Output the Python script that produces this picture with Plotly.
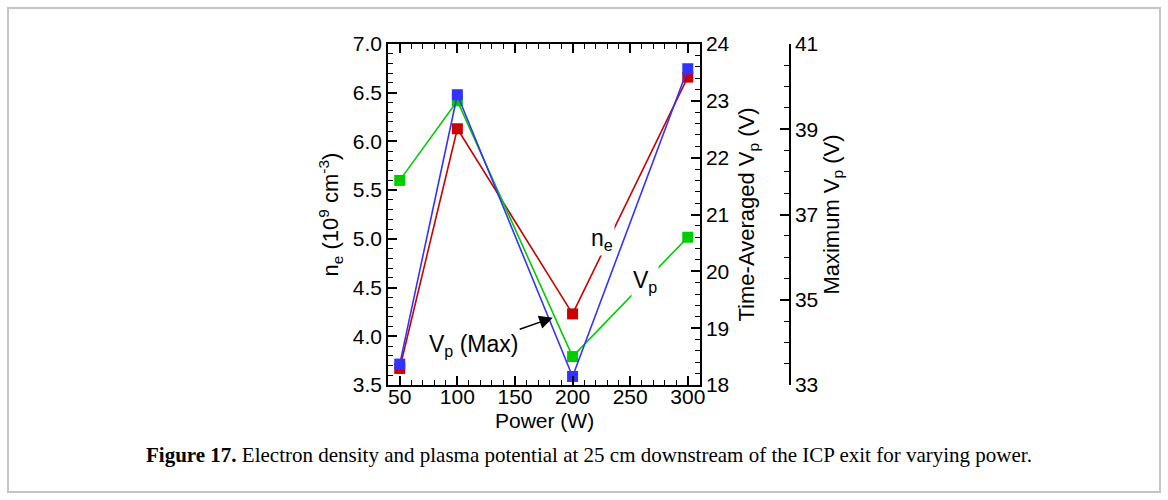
import plotly.graph_objects as go

power = [50, 100, 200, 300]
ne = [3.67, 6.13, 4.23, 6.66]
vp_avg = [21.6, 23.0, 18.5, 20.6]
vp_max = [33.49, 39.81, 33.2, 40.42]

x_ticks = [50, 100, 150, 200, 250, 300]
ne_ticks = [3.5, 4.0, 4.5, 5.0, 5.5, 6.0, 6.5, 7.0]
avg_ticks = [18, 19, 20, 21, 22, 23, 24]
max_ticks = [33, 35, 37, 39, 41]

RED = "#cc0000"
GREEN = "#00cc00"
BLUE = "#3333ff"
FONT = "Liberation Sans"
TF = 21

W, H = 1168, 500
ML, MR, MT, MB = 300, 300, 44, 115
PW = W - ML - MR
PH = H - MT - MB

def px(p):
    return (p - ML) / PW

def py(p):
    return (H - MB - p) / PH

fig = go.Figure()
fig.add_trace(go.Scatter(x=power, y=ne, mode="lines+markers", yaxis="y",
                         line=dict(color=RED, width=1.6),
                         marker=dict(symbol="square", size=11, color=RED),
                         showlegend=False))
fig.add_trace(go.Scatter(x=power, y=vp_avg, mode="lines+markers", yaxis="y2",
                         line=dict(color=GREEN, width=1.6),
                         marker=dict(symbol="square", size=11, color=GREEN),
                         showlegend=False))
fig.add_trace(go.Scatter(x=power, y=vp_max, mode="lines+markers", yaxis="y3",
                         line=dict(color=BLUE, width=1.6),
                         marker=dict(symbol="square", size=11, color=BLUE),
                         showlegend=False))

axis_common = dict(showline=True, linecolor="black", linewidth=1.5,
                   ticks="inside", ticklen=9, tickwidth=1.5, tickcolor="black",
                   showgrid=False, zeroline=False,
                   tickfont=dict(family=FONT, size=TF, color="black"))

fig.update_layout(
    width=W, height=H,
    margin=dict(l=ML, r=MR, t=MT, b=MB),
    paper_bgcolor="white", plot_bgcolor="white",
    xaxis=dict(domain=[px(388), px(700)], range=[39.8, 310.6],
               tickvals=x_ticks, mirror="ticks", ticklabelstandoff=-8,
               minor=dict(dtick=10, tick0=0, ticks="inside", ticklen=5, tickwidth=1, tickcolor="black"),
               **axis_common),
    yaxis=dict(range=[3.5, 7.0], tickvals=ne_ticks, tickformat=".1f",
               minor=dict(dtick=0.1, tick0=0, ticks="inside", ticklen=5, tickwidth=1, tickcolor="black"),
               title=dict(text="n<sub>e</sub> (10<sup>9</sup> cm<sup>-3</sup>)", standoff=8,
                          font=dict(family=FONT, size=22, color="black")),
               **axis_common),
    yaxis2=dict(range=[18, 24], tickvals=avg_ticks, overlaying="y", side="right", anchor="x",
                minor=dict(dtick=0.2, tick0=0, ticks="inside", ticklen=5, tickwidth=1, tickcolor="black"),
                title=dict(text="Time-Averaged V<sub>p</sub> (V)", standoff=10,
                           font=dict(family=FONT, size=22, color="black")),
                **axis_common),
    yaxis3=dict(range=[33, 41], tickvals=max_ticks, overlaying="y", side="right",
                anchor="free", position=px(790),
                minor=dict(dtick=0.5, tick0=0, ticks="inside", ticklen=5, tickwidth=1, tickcolor="black"),
                title=dict(text="Maximum V<sub>p</sub> (V)", standoff=5,
                           font=dict(family=FONT, size=22, color="black")),
                **axis_common),
)

# x-axis title placed tight under the tick labels, as in the reference
fig.add_annotation(x=px(544), y=py(421), xref="paper", yref="paper",
                   xanchor="center", yanchor="middle", text="Power (W)",
                   showarrow=False, font=dict(family=FONT, size=21, color="black"))

fig.add_annotation(x=225.3, y=4.99, xref="x", yref="y", text="n<sub>e</sub>",
                   showarrow=False, bgcolor="white", borderpad=1,
                   font=dict(family=FONT, size=23, color="black"))
fig.add_annotation(x=262.7, y=4.56, xref="x", yref="y", text="V<sub>p</sub>",
                   showarrow=False, bgcolor="white", borderpad=1,
                   font=dict(family=FONT, size=23, color="black"))
fig.add_annotation(x=182.8, y=4.19, xref="x", yref="y",
                   ax=114.2, ay=3.91, axref="x", ayref="y",
                   text="V<sub>p</sub> (Max)", showarrow=True,
                   arrowhead=2, arrowsize=1.8, arrowwidth=1.5, arrowcolor="black",
                   font=dict(family=FONT, size=23, color="black"))

fig.add_annotation(x=px(589), y=py(455), xref="paper", yref="paper",
                   xanchor="center", yanchor="middle",
                   text="<b>Figure 17.</b> Electron density and plasma potential at 25 cm downstream of the ICP exit for varying power.",
                   showarrow=False, font=dict(family="Liberation Serif", size=21, color="black"))

fig.add_shape(type="rect", xref="paper", yref="paper",
              x0=px(8), x1=px(1160), y0=py(492), y1=py(8),
              line=dict(color="#c4c4c4", width=2), fillcolor="rgba(0,0,0,0)", layer="below")

fig.write_html("out.html")
